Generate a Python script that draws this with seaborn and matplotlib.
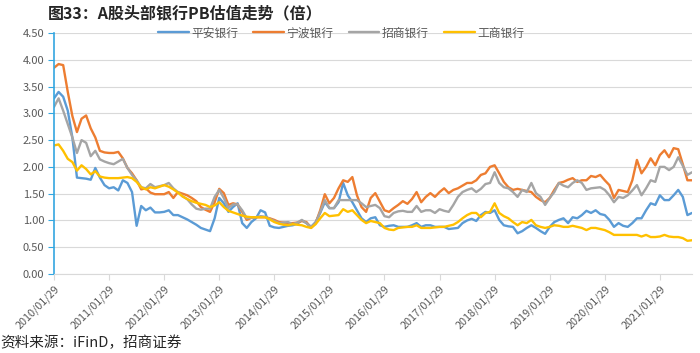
import numpy as np
import pandas as pd
import matplotlib
matplotlib.use("Agg")
import matplotlib.pyplot as plt
import seaborn as sns

# monthly PB, 2010/01 .. 2021/08
pingan = [3.28, 3.40, 3.31, 3.05, 2.55, 1.80, 1.79, 1.78, 1.76, 1.98,
          1.80, 1.66, 1.60, 1.62, 1.56, 1.75, 1.70, 1.53, 0.90, 1.27,
          1.19, 1.24, 1.15, 1.15, 1.16, 1.19, 1.10, 1.10, 1.06, 1.02,
          0.97, 0.92, 0.86, 0.83, 0.80, 1.04, 1.42, 1.32, 1.16, 1.25,
          1.32, 0.95, 0.86, 0.97, 1.04, 1.19, 1.15, 0.90, 0.87, 0.86,
          0.88, 0.90, 0.91, 0.94, 1.00, 0.95, 0.88, 0.97, 1.14, 1.34,
          1.23, 1.23, 1.34, 1.70, 1.47, 1.34, 1.19, 1.04, 0.97, 1.04,
          1.06, 0.91, 0.88, 0.90, 0.91, 0.88, 0.88, 0.88, 0.91, 0.95,
          0.88, 0.91, 0.91, 0.88, 0.88, 0.88, 0.84, 0.85, 0.86, 0.95,
          1.00, 1.03, 0.99, 1.10, 1.16, 1.14, 1.19, 1.01, 0.91, 0.89,
          0.88, 0.76, 0.80, 0.86, 0.91, 0.86, 0.80, 0.75, 0.88, 0.97,
          1.01, 1.04, 0.95, 1.06, 1.04, 1.10, 1.18, 1.14, 1.19, 1.12,
          1.10, 1.01, 0.88, 0.95, 0.90, 0.88, 0.95, 1.04, 1.04, 1.19,
          1.32, 1.29, 1.47, 1.38, 1.38, 1.47, 1.57, 1.44, 1.10, 1.14]

ningbo = [3.85, 3.92, 3.90, 3.40, 2.95, 2.65, 2.90, 2.96, 2.72, 2.55,
          2.30, 2.27, 2.26, 2.26, 2.28, 2.16, 1.98, 1.88, 1.75, 1.58,
          1.60, 1.52, 1.49, 1.49, 1.49, 1.53, 1.42, 1.53, 1.50, 1.47,
          1.42, 1.36, 1.25, 1.20, 1.16, 1.34, 1.59, 1.51, 1.29, 1.32,
          1.30, 1.16, 1.01, 1.05, 1.06, 1.06, 1.06, 1.04, 1.01, 0.97,
          0.96, 0.95, 0.95, 0.96, 0.99, 0.97, 0.86, 0.95, 1.19, 1.49,
          1.32, 1.42, 1.60, 1.75, 1.72, 1.81, 1.47, 1.25, 1.16, 1.42,
          1.51, 1.35, 1.19, 1.16, 1.23, 1.29, 1.36, 1.31, 1.40, 1.53,
          1.34, 1.44, 1.51, 1.44, 1.53, 1.60, 1.51, 1.57, 1.60, 1.65,
          1.70, 1.70, 1.75, 1.85, 1.88, 2.00, 2.03, 1.88, 1.72, 1.62,
          1.57, 1.59, 1.57, 1.55, 1.53, 1.44, 1.38, 1.34, 1.42, 1.57,
          1.70, 1.72, 1.76, 1.79, 1.72, 1.75, 1.75, 1.83, 1.81, 1.85,
          1.75, 1.66, 1.42, 1.57, 1.55, 1.53, 1.75, 2.13, 1.88, 2.00,
          2.16, 2.03, 2.22, 2.31, 2.18, 2.35, 2.33, 2.05, 1.75, 1.75]

zhaoshang = [3.12, 3.28, 3.05, 2.80, 2.55, 2.26, 2.50, 2.45, 2.20, 2.30,
             2.14, 2.10, 2.07, 2.05, 2.10, 2.15, 1.98, 1.85, 1.75, 1.62,
             1.60, 1.68, 1.62, 1.64, 1.66, 1.70, 1.60, 1.53, 1.45, 1.40,
             1.30, 1.22, 1.20, 1.22, 1.22, 1.44, 1.57, 1.42, 1.23, 1.30,
             1.30, 1.19, 1.04, 1.05, 1.06, 1.08, 1.07, 1.03, 0.99, 0.95,
             0.96, 0.97, 0.93, 0.96, 1.01, 0.95, 0.88, 0.95, 1.16, 1.38,
             1.23, 1.23, 1.38, 1.38, 1.38, 1.38, 1.38, 1.32, 1.25, 1.27,
             1.29, 1.23, 1.08, 1.06, 1.14, 1.17, 1.18, 1.16, 1.16, 1.27,
             1.16, 1.19, 1.19, 1.14, 1.21, 1.18, 1.16, 1.29, 1.44, 1.53,
             1.57, 1.60, 1.53, 1.59, 1.68, 1.70, 1.90, 1.70, 1.62, 1.60,
             1.53, 1.44, 1.57, 1.53, 1.70, 1.51, 1.44, 1.29, 1.42, 1.53,
             1.70, 1.65, 1.62, 1.70, 1.75, 1.70, 1.57, 1.60, 1.61, 1.62,
             1.57, 1.47, 1.34, 1.44, 1.42, 1.47, 1.56, 1.66, 1.47, 1.60,
             1.75, 1.72, 2.00, 2.00, 1.94, 2.00, 2.18, 2.02, 1.85, 1.90]

gongshang = [2.40, 2.42, 2.30, 2.15, 2.09, 1.93, 2.03, 1.96, 1.86, 1.92,
             1.82, 1.80, 1.79, 1.79, 1.79, 1.80, 1.81, 1.79, 1.72, 1.62,
             1.58, 1.62, 1.60, 1.63, 1.66, 1.63, 1.58, 1.52, 1.45, 1.40,
             1.36, 1.33, 1.31, 1.29, 1.25, 1.28, 1.34, 1.25, 1.18, 1.15,
             1.12, 1.09, 1.07, 1.06, 1.06, 1.06, 1.06, 1.02, 0.97, 0.94,
             0.92, 0.91, 0.93, 0.92, 0.91, 0.88, 0.86, 0.93, 1.04, 1.14,
             1.08, 1.09, 1.10, 1.21, 1.16, 1.19, 1.10, 1.01, 0.95, 0.99,
             0.97, 0.95, 0.86, 0.83, 0.82, 0.86, 0.87, 0.88, 0.88, 0.91,
             0.86, 0.86, 0.86, 0.87, 0.88, 0.88, 0.90, 0.92, 0.97, 1.04,
             1.10, 1.14, 1.14, 1.06, 1.14, 1.16, 1.32, 1.14, 1.08, 1.04,
             0.97, 0.91, 0.97, 0.95, 1.01, 0.91, 0.88, 0.86, 0.88, 0.91,
             0.90, 0.88, 0.88, 0.90, 0.88, 0.86, 0.82, 0.86, 0.86, 0.84,
             0.82, 0.78, 0.73, 0.73, 0.73, 0.73, 0.73, 0.73, 0.70, 0.73,
             0.69, 0.69, 0.70, 0.73, 0.70, 0.69, 0.69, 0.67, 0.62, 0.63]

names = ["平安银行", "宁波银行", "招商银行", "工商银行"]
colors = ["#5B9BD5", "#ED7D31", "#A5A5A5", "#FFC000"]
years = list(range(2010, 2022))

df = pd.DataFrame({"平安银行": pingan, "宁波银行": ningbo,
                   "招商银行": zhaoshang, "工商银行": gongshang})
df["t"] = np.arange(len(df))
long = df.melt(id_vars="t", var_name="bank", value_name="pb")

sns.set_style("white")
plt.rcParams["font.family"] = ["Noto Sans CJK SC", "DejaVu Sans"]

fig = plt.figure(figsize=(7, 3.53), dpi=100)
ax = fig.add_axes([54 / 700, 1 - 274 / 353, 638 / 700, 241 / 353])

sns.lineplot(data=long, x="t", y="pb", hue="bank", hue_order=names,
             palette=colors, linewidth=1.7, ax=ax)

ax.set_xlim(0, len(df) - 1)
ax.set_ylim(0, 4.5)
ax.set_yticks(np.arange(0, 4.51, 0.5))
ax.set_yticklabels([f"{v:.2f}" for v in np.arange(0, 4.51, 0.5)])
ax.set_xticks([12 * i for i in range(len(years))])
ax.set_xticklabels([f"{y}/01/29" for y in years], rotation=45,
                   ha="right", rotation_mode="anchor")
ax.set_xlabel("")
ax.set_ylabel("")

ax.grid(axis="y", color="#D9D9D9", linewidth=0.8)
ax.set_axisbelow(True)
for s in ["top", "right"]:
    ax.spines[s].set_visible(False)
ax.spines["left"].set_color("#33A6E0")
ax.spines["left"].set_linewidth(1.2)
ax.spines["bottom"].set_color("#D9D9D9")
ax.tick_params(axis="y", which="both", left=True, length=4, color="#33A6E0",
               labelsize=8, labelcolor="#595959", pad=3)
ax.tick_params(axis="x", bottom=True, length=4, color="#D9D9D9",
               labelsize=7.8, labelcolor="#595959", pad=3)

leg = ax.legend(loc="center", bbox_to_anchor=(0.45, 1.0), ncol=4, frameon=False,
                fontsize=8.5, handlelength=2.6, columnspacing=1.3,
                handletextpad=0.2)
for t in leg.get_texts():
    t.set_color("#595959")

fig.text(0.068, 0.962, "图33：A股头部银行PB估值走势（倍）", fontsize=11.5,
         fontweight="bold", va="center")
fig.text(0.0, 0.028, "资料来源：iFinD，招商证券", fontsize=10.5, va="center")

fig.savefig("out.png", dpi=100)
